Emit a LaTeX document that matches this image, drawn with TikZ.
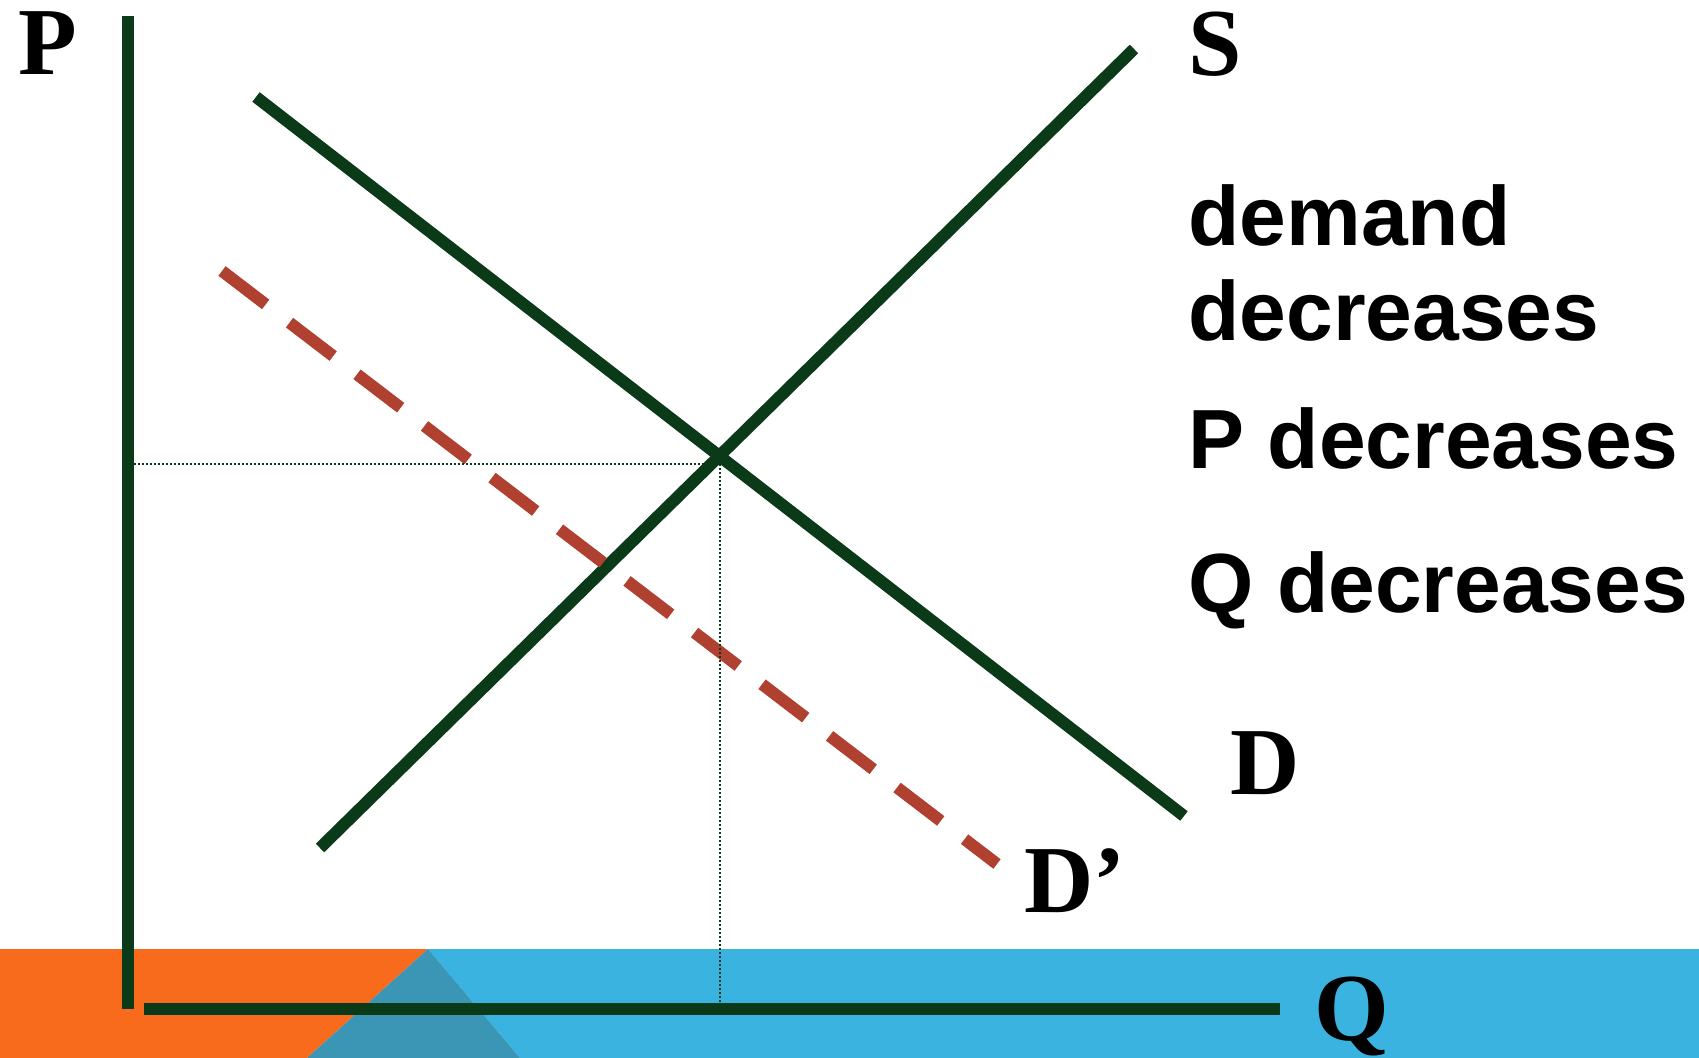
\documentclass[tikz,border=0pt]{standalone}
\usepackage{fontspec}
\setmainfont{Liberation Serif}
\setsansfont{Liberation Sans}
\usepackage{tikz}
\usetikzlibrary{positioning,calc}
\definecolor{axgreen}{RGB}{11,58,24}
\definecolor{shiftred}{RGB}{176,64,47}
\definecolor{bandorange}{RGB}{249,107,28}
\definecolor{bandblue}{RGB}{58,179,224}
\definecolor{bandteal}{RGB}{58,150,180}

\begin{document}
\begin{tikzpicture}[
  x=0.5pt, y=-0.5pt,
  curve/.style={line width=6pt, axgreen},
  shifted/.style={line width=6pt, shiftred, dash pattern=on 27.5pt off 15pt},
  guide/.style={line width=1pt, axgreen, dash pattern=on 1pt off 1pt},
  axlabel/.style={font=\fontsize{48}{56}\selectfont\bfseries, inner sep=0pt},
  note/.style={font=\sffamily\fontsize{42}{50}\selectfont\bfseries, inner sep=0pt, anchor=base west}
]
\useasboundingbox (0,0) rectangle (1699,1058);
% ---- bottom band ----
\fill[bandorange] (0,949) -- (428,949) -- (307,1058) -- (0,1058) -- cycle;
\fill[bandblue] (428,949) -- (1699,949) -- (1699,1058) -- (520,1058) -- cycle;
\fill[bandteal] (428,949) -- (520,1058) -- (307,1058) -- cycle;
% ---- axes ----
\coordinate (ptop) at (128,16);
\coordinate (porig) at (128,1009);
\coordinate (qleft) at (144,1009);
\coordinate (qend) at (1280,1009);
\draw[curve] (ptop) -- (porig);
\draw[curve] (qleft) -- (qend);
\node[axlabel, anchor=base] (plab) at (48,75) {P};
\node[axlabel, anchor=base west] (qlab) at (1314,1040) {Q};
% ---- supply and demand ----
\coordinate (s0) at (320,848);
\coordinate (s1) at (1134,49);
\coordinate (d0) at (256,97);
\coordinate (d1) at (1184,816);
\coordinate (n0) at (222,271);
\coordinate (n1) at (997,864);
\draw[curve] (s0) -- (s1);
\draw[curve] (d0) -- (d1);
\draw[shifted] (n0) -- (n1);
\node[axlabel, anchor=base] (slab) at (1215,76) {S};
\node[axlabel, anchor=base] (dlab) at (1265,795) {D};
\node[axlabel, anchor=base west] (nlab) at (1024,913) {D’};
% ---- equilibrium guides ----
\coordinate (eq) at (720,464);
\coordinate (peq) at (134,464);
\coordinate (qeq) at (720,1003);
\draw[guide] (peq) -- (eq);
\draw[guide] (eq) -- (qeq);
% ---- notes ----
\node[note] (n1a) at (1188,246) {demand};
\node[note] (n1b) at (1188,341) {decreases};
\node[note] (n2) at (1188,469) {P decreases};
\node[note] (n3) at (1188,613) {Q decreases};
\end{tikzpicture}
\end{document}
